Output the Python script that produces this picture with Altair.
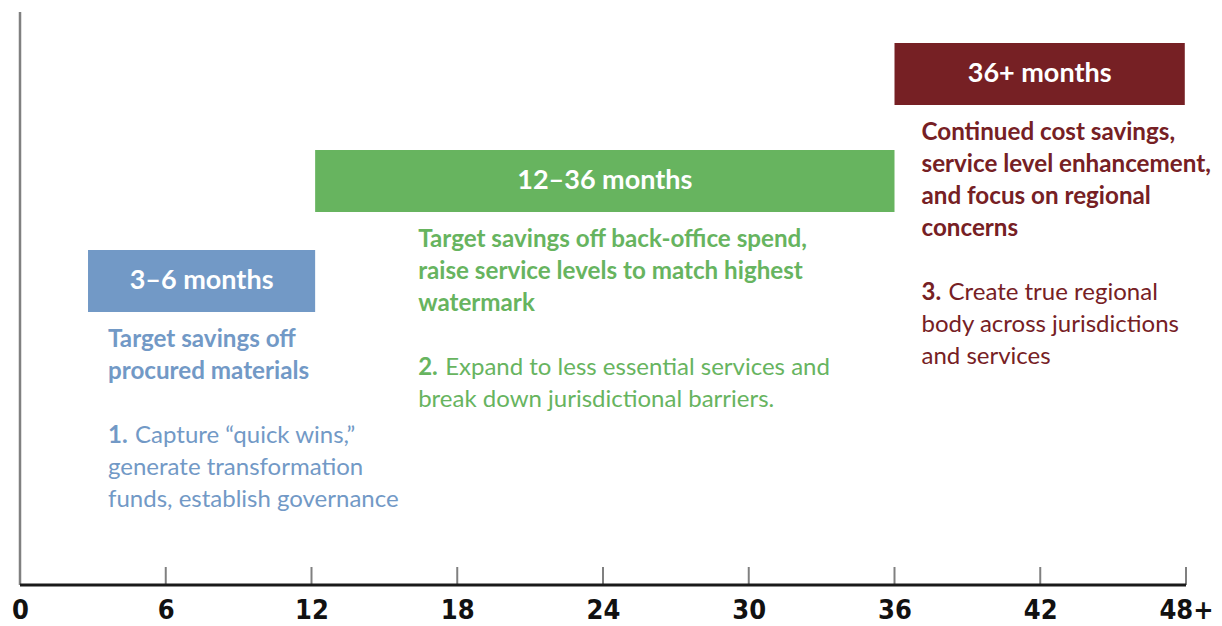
import altair as alt
import pandas as pd

# ---- data ----
phases = ["3–6 months", "12–36 months", "36+ months"]
phase_start = [2.8, 12.15, 36.0]
phase_end = [12.15, 36.0, 47.95]
phase_colors = ["#7299c6", "#67b45f", "#762024"]
headings = [
    ["Target savings off", "procured materials"],
    ["Target savings off back-office spend,", "raise service levels to match highest", "watermark"],
    ["Continued cost savings,", "service level enhancement,", "and focus on regional", "concerns"],
]
step_numbers = ["1.", "2.", "3."]
step_lines = [
    ["Capture \u201cquick wins,\u201d", "generate transformation", "funds, establish governance"],
    ["Expand to less essential services and", "break down jurisdictional barriers."],
    ["Create true regional", "body across jurisdictions", "and services"],
]
tick_values = [0, 6, 12, 18, 24, 30, 36, 42, 48]
tick_labels = ["0", "6", "12", "18", "24", "30", "36", "42", "48+"]

# ---- layout (pixels) ----
W, H = 1166, 573
PX_PER_MONTH = W / 48
bar_top = [238, 138, 31]
bar_h = 62
text_dx = [20, 103, 27]
line_h = 32
head_gap = 35
num_dx = 27
FONT = "Lato"
AXFONT = "Liberation Sans Narrow, DejaVu Sans Condensed, sans-serif"

bars = pd.DataFrame({
    "phase": phases, "start": phase_start, "end": phase_end,
    "top": bar_top, "bottom": [t + bar_h for t in bar_top],
    "mid": [(phase_start[i] + phase_end[i]) / 2 for i in range(3)],
    "cy": [t + bar_h / 2 for t in bar_top],
})

rows = []
for i in range(3):
    x = phase_start[i] + text_dx[i] / PX_PER_MONTH
    yh = bar_top[i] + bar_h + head_gap
    ys = yh + (len(headings[i]) + 1) * line_h
    rows.append({
        "phase": phases[i], "x": x, "xn": x + num_dx / PX_PER_MONTH,
        "yh": yh, "ys": ys, "ys2": ys + line_h,
        "head": "\n".join(headings[i]), "num": step_numbers[i],
        "first": step_lines[i][0], "rest": "\n".join(step_lines[i][1:]),
    })
texts = pd.DataFrame(rows)

label_expr = "".join(f"datum.value == {v} ? '{l}' : " for v, l in zip(tick_values, tick_labels)) + "datum.label"

xscale = alt.Scale(domain=[0, 48], nice=False, zero=False)
yscale = alt.Scale(domain=[0, H], reverse=True, nice=False, zero=False)
xaxis = alt.Axis(values=tick_values, labelExpr=label_expr, domain=False, ticks=False, grid=False,
                 title=None, labelFont=AXFONT, labelFontSize=27, labelFontWeight="bold",
                 labelColor="#111111", labelPadding=12, labelFlush=False, labelOverlap=False)
color = alt.Color("phase:N", scale=alt.Scale(domain=phases, range=phase_colors), legend=None)

def X(field):
    return alt.X(field, type="quantitative", scale=xscale, axis=xaxis)

def Y(field):
    return alt.Y(field, type="quantitative", scale=yscale, axis=None)

ticks_df = pd.DataFrame({"t": tick_values[1:]})
axis_df = pd.DataFrame({"a": [0], "b": [48]})

axis_line = alt.Chart(axis_df).mark_rule(color="#1a1a1a", strokeWidth=3).encode(
    x=X("a"), x2="b", y=alt.value(H))
vline = alt.Chart(axis_df).mark_rule(color="#808080", strokeWidth=2.5).encode(
    x=X("a"), y=alt.value(0), y2=alt.value(H))
tick_marks = alt.Chart(ticks_df).mark_rule(color="#808080", strokeWidth=2).encode(
    x=X("t"), y=alt.value(H - 18), y2=alt.value(H))

bar_layer = alt.Chart(bars).mark_rect().encode(
    x=X("start"), x2="end", y=Y("top"), y2="bottom", color=color)
bar_text = alt.Chart(bars).mark_text(font=FONT, fontSize=27, fontWeight="bold", color="white",
                                     align="center", baseline="middle").encode(
    x=X("mid"), y=Y("cy"), text="phase:N")

common = dict(font=FONT, align="left", baseline="alphabetic", lineBreak="\n", lineHeight=line_h)
head_layer = alt.Chart(texts).mark_text(fontWeight="bold", fontSize=24.2, **common).encode(
    x=X("x"), y=Y("yh"), text="head:N", color=color)
num_layer = alt.Chart(texts).mark_text(fontWeight="bold", fontSize=24, **common).encode(
    x=X("x"), y=Y("ys"), text="num:N", color=color)
first_layer = alt.Chart(texts).mark_text(fontSize=24, **common).encode(
    x=X("xn"), y=Y("ys"), text="first:N", color=color)
rest_layer = alt.Chart(texts).mark_text(fontSize=24, **common).encode(
    x=X("x"), y=Y("ys2"), text="rest:N", color=color)

chart = alt.layer(
    bar_layer, bar_text, head_layer, num_layer, first_layer, rest_layer,
    tick_marks, vline, axis_line
).properties(
    width=W, height=H, autosize=alt.AutoSizeParams(type="none"),
    padding={"left": 12, "top": 4, "right": 28, "bottom": 40}
).configure_view(stroke=None)

chart.save("out.html", embed_options={"renderer": "svg", "actions": False})
